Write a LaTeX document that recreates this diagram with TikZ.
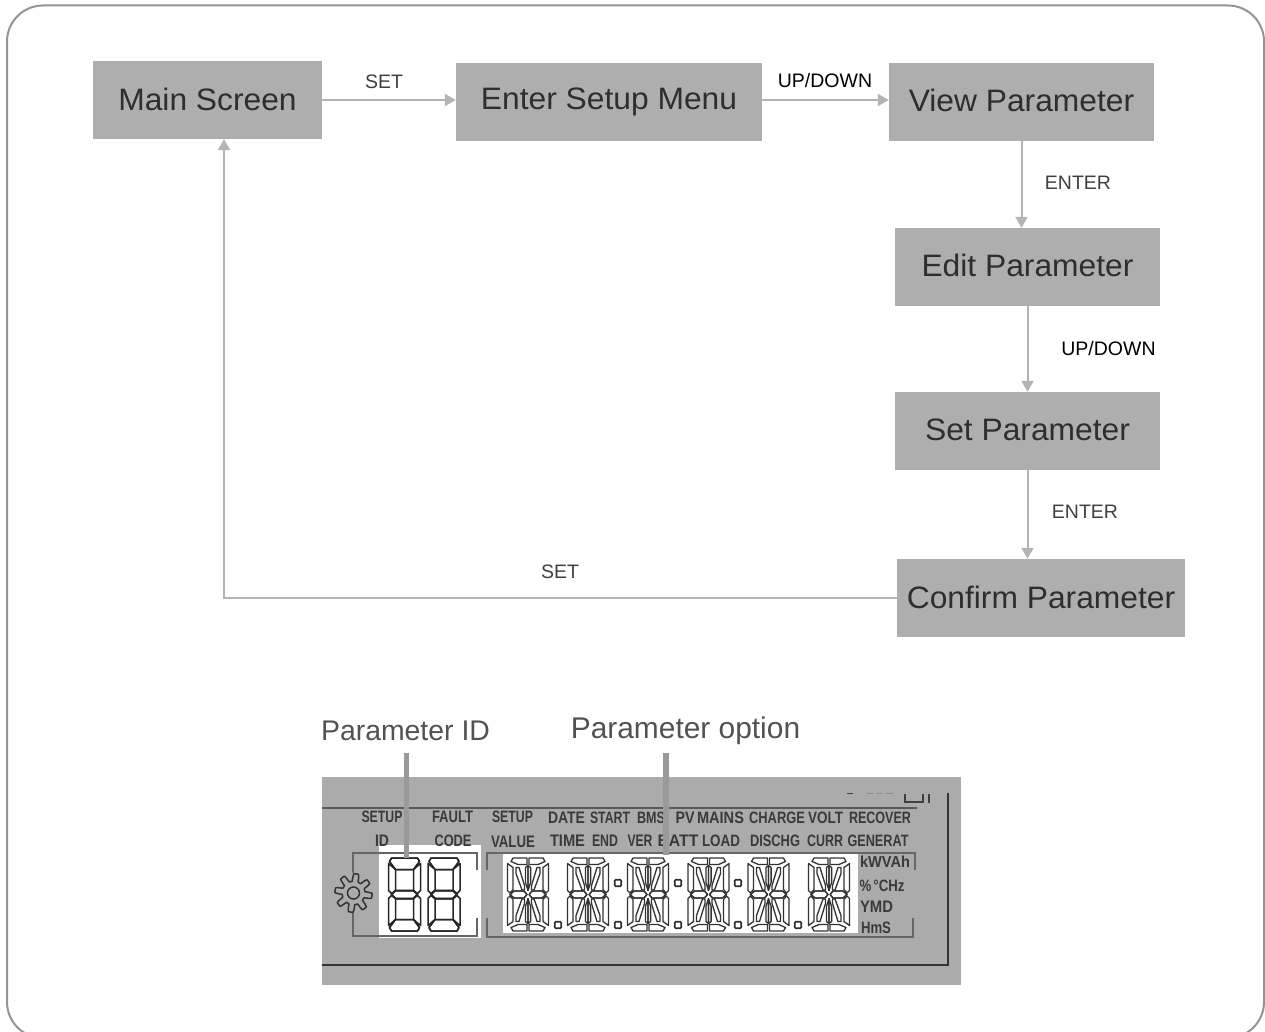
\documentclass[tikz,border=0pt]{standalone}
\usepackage{graphicx}
\usepackage{fontspec}
\setmainfont{Liberation Sans}
\usetikzlibrary{arrows.meta,calc}
\definecolor{boxgray}{HTML}{AEAEAE}
\definecolor{panelgray}{HTML}{ABABAB}
\definecolor{linkgray}{HTML}{B4B4B4}
\definecolor{leadgray}{HTML}{9A9A9A}
\definecolor{inktext}{HTML}{2E2E2E}
\definecolor{lcdtext}{HTML}{3A3A3A}
\newcommand{\fsz}[1]{\fontsize{#1}{#1}\selectfont}
\newcommand{\boxtxt}[2]{\raisebox{#1pt}{\scalebox{1.025}[1]{#2}}}
\tikzset{
  x=1pt,y=-1pt,
  flowbox/.style={fill=boxgray,draw=none,inner sep=0pt,text=inktext,font=\fsz{31},text height=23pt,text depth=0pt},
  link/.style={draw=linkgray,line width=2pt,-{Triangle[width=12pt,length=11pt]}},
  linklabel/.style={text=black!75,font=\fsz{19.5},inner sep=0pt},
  toplabel/.style={text=black!68,inner sep=0pt},
  lead/.style={draw=leadgray,line width=5.5pt},
  lcdlabel/.style={text=lcdtext,font=\bfseries\fsz{15},inner sep=0pt},
  frameline/.style={draw=black!65,line width=1.2pt},
  seg/.style={draw=black!85,line width=1.5pt,line join=round},
  segfine/.style={draw=black!80,line width=1.3pt,line join=round},
  bracket/.style={draw=black!60,line width=1.2pt},
  sevendigit/.pic={
    \foreach \sx/\sy in {1/1,-1/1,1/-1,-1/-1}{
      \begin{scope}[xscale=\sx,yscale=\sy]
        \draw[seg] (-13,-36.5)--(13,-36.5)--(15,-33)--(9,-25)--(-9,-25)--(-15,-33)--cycle;
        \draw[seg] (-16,-31)--(-9,-25)--(-9,-4)--(-13,-1)--(-16,-4)--cycle;
        \draw[seg] (-13,0)--(-9,-4)--(9,-4)--(13,0)--(9,4)--(-9,4)--cycle;
      \end{scope}}
  },
  alphadigit/.pic={
    \foreach \sx/\sy in {1/1,-1/1,1/-1,-1/-1}{
      \begin{scope}[xscale=\sx,yscale=\sy]
        \draw[segfine] (-15,-36.5)--(-1,-36.5)--(-1,-30)--(-10,-30)--(-17,-33)--cycle;
        \draw[segfine] (-20.5,-31)--(-15,-27)--(-15,-5)--(-18,-1.5)--(-20.5,-4)--cycle;
        \draw[segfine] (-12,-27)--(-9,-27)--(-3.5,-9)--(-3.5,-4.5)--(-6,-4.5)--(-12,-21)--cycle;
        \draw[segfine] (-18,0)--(-14,-3.5)--(-4,-3.5)--(-1,0)--(-4,3.5)--(-14,3.5)--cycle;
        \draw[segfine] (0,-29)--(-2.6,-27)--(-2.6,-12)--(0,-4)--cycle;
      \end{scope}}
  },
  lcddot/.style={draw=black!82,line width=1.6pt,rounded corners=1pt,minimum size=6.5pt,inner sep=0pt,fill=white},
}
\begin{document}
\begin{tikzpicture}
\useasboundingbox (0,0) rectangle (1265,1032);
\clip (0,0) rectangle (1265,1032);
\fill[white] (0,0) rectangle (1265,1032);
\draw[draw=black!42,line width=2pt,rounded corners=36pt] (7,5.5) rectangle (1264,1038);

% flow boxes
\node[flowbox,minimum width=229pt,minimum height=78pt] (main) at (207.5,100) {\boxtxt{0.5}{Main Screen}};
\node[flowbox,minimum width=306pt,minimum height=78pt] (setup) at (609,102) {\boxtxt{4}{Enter Setup Menu}};
\node[flowbox,minimum width=265pt,minimum height=78pt] (view) at (1021.5,102) {\boxtxt{1.5}{View Parameter}};
\node[flowbox,minimum width=265pt,minimum height=78pt] (edit) at (1027.5,267) {\boxtxt{2}{Edit Parameter}};
\node[flowbox,minimum width=265pt,minimum height=78pt] (set) at (1027.5,431) {\boxtxt{2}{Set Parameter}};
\node[flowbox,minimum width=288pt,minimum height=78pt] (confirm) at (1041,598) {\boxtxt{1.5}{Confirm Parameter}};

% connectors
\coordinate (mainin) at ($(main.south)+(16.5,0)$);
\draw[link] (main.east) -- (main.east -| setup.west);
\draw[link] ($(setup.east)+(0,-2)$) -- ($(view.west)+(0,-2)$);
\draw[link] (view.south) -- (view.south |- edit.north);
\draw[link] (edit.south) -- (set.north);
\draw[link] (set.south) -- (set.south |- confirm.north);
\draw[link] (confirm.west) -| (mainin);

% connector labels
\node[linklabel] (l1) at (384,82) {SET};
\node[linklabel,text=black] (l2) at (825,81) {UP/DOWN};
\node[linklabel] (l3) at (1078,183) {ENTER};
\node[linklabel,text=black] (l4) at (1108.5,349) {UP/DOWN};
\node[linklabel] (l5) at (1085,512) {ENTER};
\node[linklabel] (l6) at (560,572) {SET};

% LCD panel
\fill[panelgray] (322,777) rectangle (961,985);
\fill[white] (379,845) rectangle (481,938);
\draw[frameline] (322,808) -- (917,808);
\draw[draw=black!80,line width=1.8pt] (322,965) -- (948,965) -- (948,793);
\draw[draw=black!75,line width=1.4pt] (847,793.5) -- (853,793.5);
\draw[draw=black!45,line width=1pt] (867,793.5) -- (873,793.5) (877,793.5) -- (883,793.5) (886,793.5) -- (893,793.5);
\draw[draw=black!75,line width=1.4pt] (905,794) -- (905,802) -- (923,802) -- (923,794);
\draw[draw=black!75,line width=1.4pt] (929,794) -- (929,803);
\draw[bracket] (353,873) -- (353,853) -- (477,853) -- (477,870);
\draw[bracket] (353,912) -- (353,936) -- (477,936) -- (477,918);
\draw[bracket] (487,870) -- (487,853) -- (915,853) -- (915,870);
\draw[bracket] (487,918) -- (487,937) -- (913,937) -- (913,918);
\fill[white] (503,853.8) rectangle (858,933);

% LCD legends: name / text / width / x / y
\foreach \nm/\tx/\lw/\xx/\yy in {
  a1/SETUP/41/382/817,a2/ID/14/382/841,a3/FAULT/41/452.5/817,a4/CODE/37/453/841,
  a5/SETUP/41/512.5/817,a6/VALUE/44/513/842,a7/DATE/37/566.5/818,a8/TIME/35/567.5/841,
  a9/START/40/610/818,a10/END/26/605/841,a11/BMS/28/651/818,a12/VER/25/640/841,
  a13/PV/19/685/818,a14/BATT/41/678/841,a15/MAINS/47/720.5/818,a16/LOAD/38/721/841,
  a17/CHARGE/56/777/818,a18/DISCHG/50/775/841,a19/VOLT/35/825.5/818,a20/CURR/36/825/841,
  a21/RECOVER/62/880/818,a22/GENERAT/61/878/841,a23/kWVAh/50/885/862,a24/{\%\,°CHz}/45/882/886,
  a25/YMD/33/876.5/907,a26/HmS/30/876/928}
  {\node[lcdlabel] (\nm) at (\xx,\yy) {\resizebox{\lw pt}{11.5pt}{\tx}};}

% gear
\draw[draw=black!80,line width=1.5pt,line join=round]
  plot[smooth,samples=161,domain=0:360] ({353.5+(15+3.6*max(-1,min(1,2*sin(8*\x+22))))*cos(\x)},{893+(15.5+3.8*max(-1,min(1,2*sin(8*\x+22))))*sin(\x)}) -- cycle;
\node[draw=black!80,line width=1.5pt,circle,minimum size=12pt,inner sep=0pt] (gearhub) at (353.5,893) {};

% digits
\pic at (404.5,894.5) {sevendigit};
\pic at (444,894.5) {sevendigit};
\pic at (528,894.5) {alphadigit};
\pic at (588,894.5) {alphadigit};
\pic at (648,894.5) {alphadigit};
\pic at (708.5,894.5) {alphadigit};
\pic at (768.5,894.5) {alphadigit};
\pic at (829,894.5) {alphadigit};
\foreach \nm/\xx/\yy in {d1/558/925,d2/618/925,d3/678/925,d4/738/925,d5/798/925,c2/618/883,c3/678/883,c4/738/883}
  {\node[lcddot] (\nm) at (\xx,\yy) {};}

% callouts
\node[toplabel,font=\fsz{28.4},text height=20pt,text depth=0pt] (pid) at (405.5,730) {Parameter ID};
\node[toplabel,font=\fsz{29.9},text height=20pt,text depth=0pt] (popt) at (685.5,728) {Parameter option};
\coordinate (pidend) at (406.5,858);
\coordinate (poptend) at (666,855);
\draw[lead] (406.5,753) -- (pidend);
\draw[lead] (666,753) -- (poptend);
\end{tikzpicture}
\end{document}
